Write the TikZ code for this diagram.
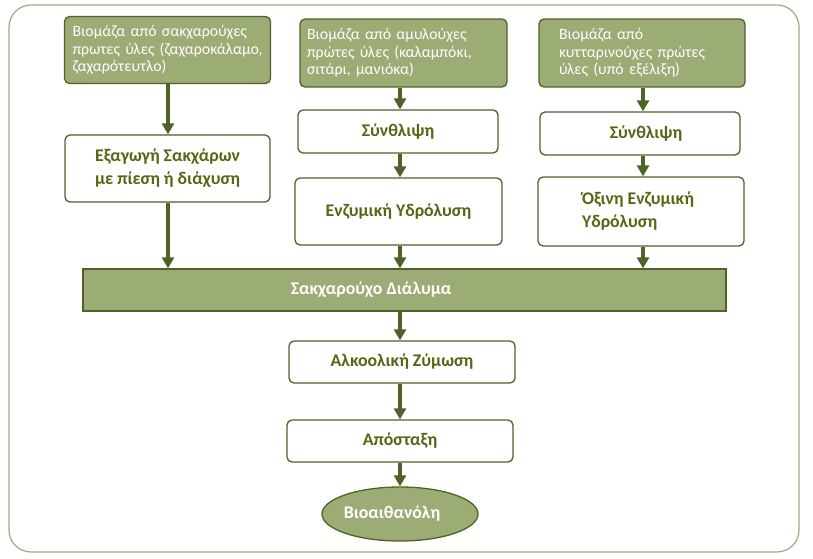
\documentclass[tikz,border=0pt]{standalone}
\usepackage{fontspec}
\setmainfont{Carlito}
\usetikzlibrary{arrows.meta,shapes.geometric,calc}
\definecolor{olfill}{HTML}{9BAD74}
\definecolor{oldark}{HTML}{4F6228}
\definecolor{oltext}{HTML}{546814}
\definecolor{frame}{HTML}{9DAA84}
\begin{document}
\begin{tikzpicture}[x=1pt,y=-1pt,
  topbox/.style={draw=oldark,line width=1.3pt,fill=olfill,rounded corners=5pt,
     text=white,font=\fontsize{15.8}{17.5}\selectfont,align=left,inner ysep=0pt,anchor=center},
  stepbox/.style={draw=oldark,line width=1.3pt,fill=white,rounded corners=5pt,
     text=oltext,font=\bfseries\fontsize{17.8}{23}\selectfont,align=center,inner sep=0pt},
  arr/.style={draw=oldark,line width=3.5pt,-{Triangle[width=12pt,length=11pt]}}]
\useasboundingbox (0,0) rectangle (813,558);
\draw[frame,line width=1.2pt,rounded corners=22pt] (9,5) rectangle (799,552);
% top boxes
\node[topbox,text width=190pt,inner xsep=8pt,minimum height=67pt] (t1) at (167.5,50)
  {\mbox{Βιομάζα από σακχαρούχες}\\\mbox{πρωτες ύλες (ζαχαροκάλαμο,}\\\mbox{ζαχαρότευτλο)}\\[2pt]};
\node[topbox,text width=193pt,inner xsep=7pt,minimum height=68pt] (t2) at (403.5,53)
  {\mbox{Βιομάζα από αμυλούχες}\\\mbox{πρώτες ύλες (καλαμπόκι,}\\\mbox{σιτάρι, μανιόκα)}\\[4pt]};
\node[topbox,text width=166pt,inner xsep=20pt,minimum height=68pt] (t3) at (642,53)
  {\mbox{Βιομάζα από}\\\mbox{κυτταρινούχες πρώτες}\\\mbox{ύλες (υπό εξέλιξη)}};
% steps
\node[stepbox,minimum width=205pt,minimum height=67pt] (ex) at (167.5,168.5)
  {Εξαγωγή Σακχάρων\\με πίεση ή διάχυση};
\node[stepbox,minimum width=200pt,minimum height=43pt] (s2) at (398,131.5) {Σύνθλιψη};
\node[stepbox,minimum width=207pt,minimum height=67pt] (h2) at (398.5,211.5) {Ενζυμική Υδρόλυση};
\node[stepbox,minimum width=200pt,minimum height=43pt] (s3) at (640,133.5) {\hspace*{12pt}Σύνθλιψη};
\node[stepbox,minimum width=206pt,minimum height=69pt,align=left] (h3) at (641,211.5)
  {\hspace*{-6pt}Όξινη Ενζυμική\\\hspace*{-6pt}Υδρόλυση};
\node[draw=oldark,line width=1.3pt,fill=olfill,minimum width=643pt,minimum height=42pt,
  inner sep=0pt,text=white,font=\bfseries\fontsize{17.8}{18}\selectfont] (bar) at (404.5,290)
  {\hspace*{-67pt}Σακχαρούχο Διάλυμα};
\node[stepbox,minimum width=226pt,minimum height=42pt] (fe) at (402,362) {Αλκοολική Ζύμωση};
\node[stepbox,minimum width=226pt,minimum height=42pt] (di) at (400,441) {Απόσταξη};
\node[ellipse,draw=oldark,line width=1.3pt,fill=olfill,minimum width=156pt,minimum height=54pt,
  inner sep=0pt,text=white,font=\bfseries\fontsize{17.8}{18}\selectfont] (bio) at (400,514)
  {\hspace*{-16pt}Βιοαιθανόλη};
% axes
\coordinate (a1) at (168,0);
\coordinate (a2) at (400,0);
\coordinate (a3) at (643,0);
% arrows
\draw[arr] (t1.south -| a1) -- (ex.north -| a1);
\draw[arr] (ex.south -| a1) -- (bar.north -| a1);
\draw[arr] (t2.south -| a2) -- (s2.north -| a2);
\draw[arr] (s2.south -| a2) -- (h2.north -| a2);
\draw[arr] (h2.south -| a2) -- (bar.north -| a2);
\draw[arr] (t3.south -| a3) -- (s3.north -| a3);
\draw[arr] (s3.south -| a3) -- (h3.north -| a3);
\draw[arr] (h3.south -| a3) -- (bar.north -| a3);
\draw[arr] (bar.south -| a2) -- (fe.north -| a2);
\draw[arr] (fe.south -| a2) -- (di.north -| a2);
\draw[arr] (di.south -| a2) -- (bio.north -| a2);
\end{tikzpicture}
\end{document}
